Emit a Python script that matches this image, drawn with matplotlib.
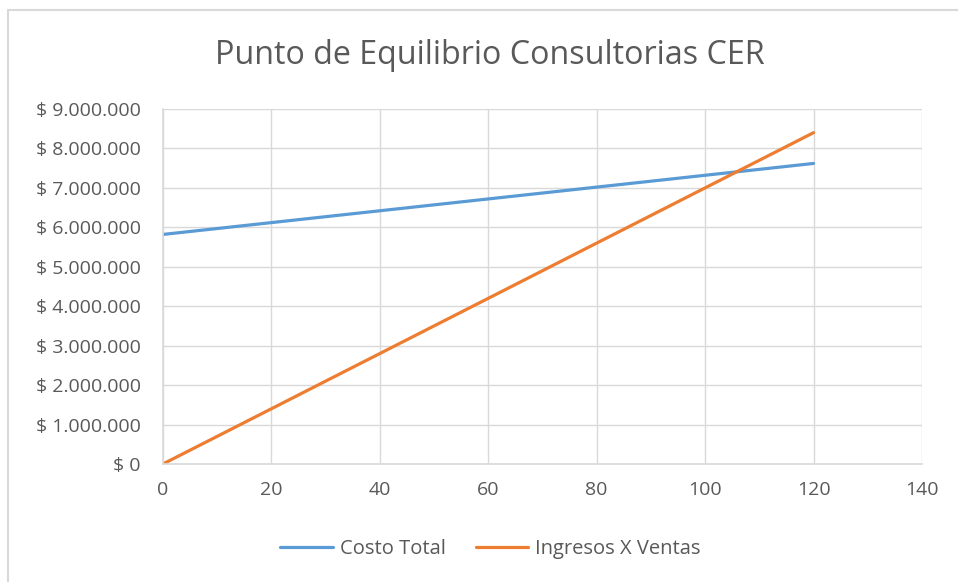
import matplotlib
matplotlib.use('Agg')
import matplotlib.pyplot as plt
from matplotlib.ticker import FuncFormatter, MultipleLocator
from matplotlib.lines import Line2D

# Data
unidades = [0, 10, 20, 30, 40, 50, 60, 70, 80, 90, 100, 110, 120]
costo_total = [5820000, 5970000, 6120000, 6270000, 6420000, 6570000, 6720000,
               6870000, 7020000, 7170000, 7320000, 7470000, 7620000]
ingresos_ventas = [0, 700000, 1400000, 2100000, 2800000, 3500000, 4200000,
                   4900000, 5600000, 6300000, 7000000, 7700000, 8400000]

title = 'Punto de Equilibrio Consultorias CER'
text_color = '#595959'
grid_color = '#d9d9d9'

plt.rcParams['font.family'] = ['Open Sans', 'DejaVu Sans']

fig = plt.figure(figsize=(9.58, 5.82), dpi=100)
ax = fig.add_axes([0.170, 0.2027, 0.7924, 0.61])

ax.plot(unidades, costo_total, color='#5b9bd5', linewidth=2.3,
        label='Costo Total', solid_capstyle='round')
ax.plot(unidades, ingresos_ventas, color='#ed7d31', linewidth=2.3,
        label='Ingresos X Ventas', solid_capstyle='round')

ax.set_xlim(0, 140)
ax.set_ylim(0, 9000000)
ax.xaxis.set_major_locator(MultipleLocator(20))
ax.yaxis.set_major_locator(MultipleLocator(1000000))


def pesos(v, _):
    if v == 0:
        return '$ 0'
    return '$ ' + f'{int(v):,}'.replace(',', '.')


ax.yaxis.set_major_formatter(FuncFormatter(pesos))
ax.grid(True, color=grid_color, linewidth=1)
ax.set_axisbelow(True)
for side in ['top', 'right']:
    ax.spines[side].set_visible(False)
for side in ['left', 'bottom']:
    ax.spines[side].set_color(grid_color)
    ax.spines[side].set_linewidth(1.2)
ax.tick_params(length=0, colors=text_color, labelsize=14)
ax.tick_params(axis='y', pad=16)
ax.tick_params(axis='x', pad=12)

fig.text(0.511, 0.905, title, ha='center', va='center', fontsize=23.2,
         color=text_color)

fig.legend(loc='center', bbox_to_anchor=(0.512, 0.056), ncol=2, frameon=False,
           fontsize=14.5, labelcolor=text_color, handlelength=2.6,
           columnspacing=1.5, handletextpad=0.35)

# Chart frame (only top and left edges visible in the screenshot)
fig.add_artist(Line2D([0.0085, 0.0085], [0.0, 0.982], transform=fig.transFigure,
                      color='#d9d9d9', linewidth=1.5))
fig.add_artist(Line2D([0.0085, 1.0], [0.982, 0.982], transform=fig.transFigure,
                      color='#d9d9d9', linewidth=1.5))

fig.savefig('out.png', dpi=100)
